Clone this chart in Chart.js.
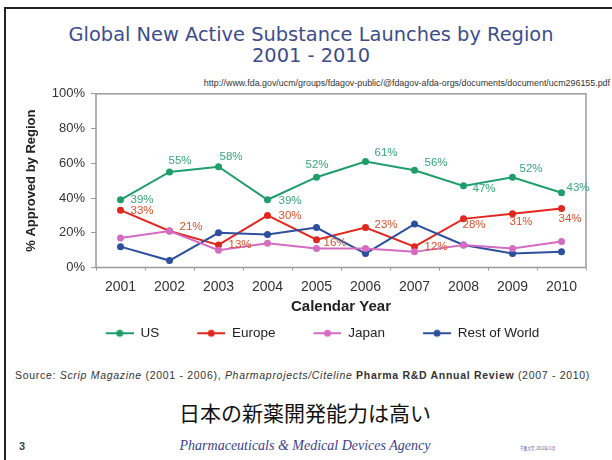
<!DOCTYPE html>
<html>
<head>
<meta charset="utf-8">
<script src="https://cdn.jsdelivr.net/npm/chart.js@4.4.1/dist/chart.umd.min.js"></script>
<style>
  html, body { margin: 0; padding: 0; background: #fff; }
  #slide { position: relative; width: 612px; height: 460px; overflow: hidden; background: #fff; }
  .frame-left { position: absolute; left: 4px; top: 7px; width: 2px; height: 460px; background: #222; }
  .frame-top { position: absolute; left: 4px; top: 7px; width: 620px; height: 2px; background: #222; }
  .title { position: absolute; left: 0; width: 622px; text-align: center; font-family: "DejaVu Sans", sans-serif; color: #3d4d8c; font-size: 19.4px; line-height: 22px; }
  .url { position: absolute; right: 2px; top: 78px; font-family: "Liberation Sans", sans-serif; font-size: 8.9px; color: #333; white-space: nowrap; }
  .source { position: absolute; left: 15px; top: 369px; font-family: "Liberation Sans", sans-serif; font-size: 10.5px; letter-spacing: 0.7px; color: #333; white-space: nowrap; }
  .jp { position: absolute; left: 0; width: 610px; top: 399px; text-align: center; font-family: "Noto Sans CJK JP", sans-serif; font-size: 21px; color: #111; line-height: 26px; }
  .pnum { position: absolute; left: 19px; top: 440px; font-family: "Liberation Sans", sans-serif; font-weight: bold; font-size: 11px; color: #444; }
  .pmda { position: absolute; left: 0; width: 610px; top: 438px; text-align: center; font-family: "Liberation Serif", serif; font-style: italic; font-size: 14px; color: #3b3f8a; }
  .chiba { position: absolute; left: 520px; top: 445px; font-family: "Noto Sans CJK JP", sans-serif; font-size: 10px; color: #3b3f8a; white-space: nowrap; transform: scale(0.36, 0.45); transform-origin: left top; }
  #chartWrap { position: absolute; left: 0; top: 80px; width: 612px; height: 270px; }
</style>
</head>
<body>
<div id="slide">
  <div class="frame-left"></div>
  <div class="frame-top"></div>
  <div class="title" style="top:24px">Global New Active Substance Launches by Region</div>
  <div class="title" style="top:45px">2001 - 2010</div>
  <div class="url">http://www.fda.gov/ucm/groups/fdagov-public/@fdagov-afda-orgs/documents/document/ucm296155.pdf</div>
  <div id="chartWrap"><canvas id="chart"></canvas></div>
  <div class="source">Source: <i>Scrip Magazine</i> (2001 - 2006), <i>Pharmaprojects/Citeline</i> <b>Pharma R&amp;D Annual Review</b> (2007 - 2010)</div>
  <div class="jp">日本の新薬開発能力は高い</div>
  <div class="pnum">3</div>
  <div class="pmda">Pharmaceuticals &amp; Medical Devices Agency</div>
  <div class="chiba">千葉大学, 2012年11月</div>
</div>
<script>
const years = ["2001", "2002", "2003", "2004", "2005", "2006", "2007", "2008", "2009", "2010"];
const usValues = [39, 55, 58, 39, 52, 61, 56, 47, 52, 43];
const europeValues = [33, 21, 13, 30, 16, 23, 12, 28, 31, 34];
const japanValues = [17, 21, 10, 14, 11, 11, 9, 13, 11, 15];
const restValues = [12, 4, 20, 19, 23, 8, 25, 13, 8, 9];
const yTicks = [0, 20, 40, 60, 80, 100];

// nudges for the % labels, [dx, dy] from each point
const usLabelNudge = [[10, 0], [-1, -11], [1, -10], [11, 1], [-11, -12], [9, -9], [10, -7], [9, 3], [7, -8], [5, -5]];
const europeLabelNudge = [[10, 1], [10, -4], [10, 0], [11, 0], [7, 3], [9, -3], [10, 0], [-1, 6], [-3, 8], [-3, 10]];

const colors = {
	us: "#1f9e6c",
	europe: "#e2271f",
	japan: "#d46cc2",
	rest: "#2c4f9e",
};

const makeLegendIcon = (color) => {
	const c = document.createElement("canvas");
	c.width = 66;
	c.height = 10;
	const ctx = c.getContext("2d");
	ctx.strokeStyle = color;
	ctx.lineWidth = 2;
	ctx.beginPath();
	ctx.moveTo(38, 5);
	ctx.lineTo(66, 5);
	ctx.stroke();
	ctx.fillStyle = color;
	ctx.beginPath();
	ctx.arc(52, 5, 3.5, 0, Math.PI * 2);
	ctx.fill();
	return c;
};

const plotFrame = {
	id: "plotFrame",
	beforeDatasetsDraw(chart) {
		const { ctx, chartArea } = chart;
		ctx.save();
		ctx.strokeStyle = "#9a9a9a";
		ctx.lineWidth = 1.5;
		ctx.strokeRect(chartArea.left, chartArea.top, chartArea.right - chartArea.left, chartArea.bottom - chartArea.top);
		ctx.restore();
	},
};

const pointLabels = {
	id: "pointLabels",
	afterDatasetsDraw(chart) {
		const { ctx } = chart;
		ctx.save();
		ctx.font = "11.5px 'Liberation Sans', Arial, sans-serif";
		ctx.textAlign = "left";
		ctx.textBaseline = "middle";
		chart.data.datasets.forEach((ds, i) => {
			if (!ds.labelNudge) return;
			const meta = chart.getDatasetMeta(i);
			ctx.fillStyle = ds.labelColor;
			meta.data.forEach((pt, j) => {
				const [dx, dy] = ds.labelNudge[j];
				ctx.fillText(`${ds.data[j]}%`, pt.x + dx, pt.y + dy);
			});
		});
		ctx.restore();
	},
};

window.onload = () => {
	const canvas = document.getElementById("chart");
	const line = (label, data, color, order) => ({
		label,
		data,
		borderColor: color,
		backgroundColor: color,
		pointBackgroundColor: color,
		pointBorderWidth: 0,
		pointRadius: 3.5,
		borderWidth: 2,
		tension: 0,
		order,
	});
	const usSet = line("US", usValues, colors.us, 2);
	usSet.labelNudge = usLabelNudge;
	usSet.labelColor = "#36a67a";
	const euSet = line("Europe", europeValues, colors.europe, 3);
	euSet.labelNudge = europeLabelNudge;
	euSet.labelColor = "#d9502c";
	const jpSet = line("Japan", japanValues, colors.japan, 0);
	const rwSet = line("Rest of World", restValues, colors.rest, 1);
	const icons = [colors.us, colors.europe, colors.japan, colors.rest].map(makeLegendIcon);

	new Chart(canvas, {
		type: "line",
		data: {
			labels: years,
			datasets: [usSet, euSet, jpSet, rwSet],
		},
		plugins: [plotFrame, pointLabels],
		options: {
			responsive: true,
			maintainAspectRatio: false,
			animation: false,
			layout: { padding: { left: 21, right: 26, top: 12, bottom: 0 } },
			plugins: {
				tooltip: { enabled: false },
				legend: {
					position: "bottom",
					labels: {
						usePointStyle: true,
						pointStyleWidth: 66,
						padding: 0,
						color: "#222",
						font: { family: "'Liberation Sans', Arial, sans-serif", size: 13.5 },
						generateLabels: (chart) => {
							const items = Chart.defaults.plugins.legend.labels.generateLabels(chart);
							items.forEach((item) => {
								item.pointStyle = icons[item.datasetIndex];
							});
							return items.sort((a, b) => a.datasetIndex - b.datasetIndex);
						},
					},
				},
			},
			scales: {
				y: {
					min: 0,
					max: 100,
					afterBuildTicks: (scale) => {
						scale.ticks = yTicks.map((v) => ({ value: v }));
					},
					afterFit: (scale) => {
						scale.width = 75;
					},
					border: { display: false },
					grid: { drawOnChartArea: false, drawTicks: true, tickLength: 5, color: "#9a9a9a" },
					ticks: {
						padding: 6,
						color: "#333",
						font: { family: "'Liberation Sans', Arial, sans-serif", size: 13 },
						callback: (v) => `${v}%`,
					},
					title: {
						display: true,
						text: "% Approved by Region",
						color: "#222",
						padding: { top: 3, bottom: 0 },
						font: { family: "'Liberation Sans', Arial, sans-serif", size: 13, weight: "bold" },
					},
				},
				x: {
					offset: true,
					afterFit: (scale) => {
						scale.height = 59;
					},
					border: { display: false },
					grid: { offset: true, drawOnChartArea: false, drawTicks: true, tickLength: 3, color: "#9a9a9a" },
					ticks: {
						padding: 8,
						color: "#333",
						font: { family: "'Liberation Sans', Arial, sans-serif", size: 14 },
					},
					title: {
						display: true,
						text: "Calendar Year",
						color: "#222",
						padding: { top: 0, bottom: 11 },
						font: { family: "'Liberation Sans', Arial, sans-serif", size: 15, weight: "bold" },
					},
				},
			},
		},
	});
};
</script>
</body>
</html>
